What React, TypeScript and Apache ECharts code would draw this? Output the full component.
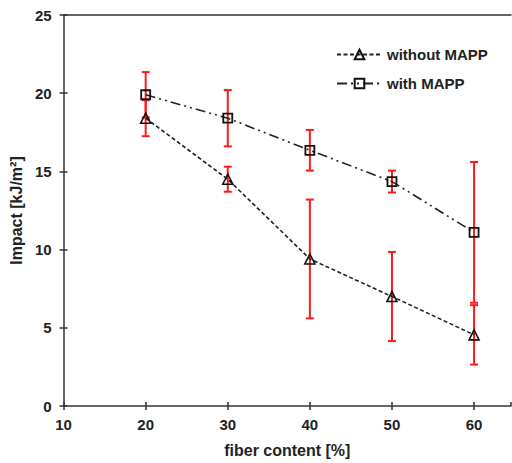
import React, { useEffect, useRef } from "react";
import * as echarts from "echarts";

const fiberContent = [20, 30, 40, 50, 60];
const withoutMAPP = [18.4, 14.5, 9.4, 7.0, 4.55];
const withoutMAPPErr = [1.15, 0.8, 3.8, 2.85, 1.9];
const withMAPP = [19.9, 18.4, 16.35, 14.35, 11.1];
const withMAPPErr = [1.45, 1.8, 1.3, 0.7, 4.5];

const FONT = "Liberation Sans, Arial, sans-serif";
const AX = "#333";

function errData(vals: number[], errs: number[]) {
  return fiberContent.map((x, i) => [x, vals[i] - errs[i], vals[i] + errs[i]]);
}

function renderErr(params: any, api: any) {
  const x = api.value(0);
  const lo = api.coord([x, api.value(1)]);
  const hi = api.coord([x, api.value(2)]);
  const w = 4;
  const style = { stroke: "#ff1a1a", lineWidth: 2 };
  return {
    type: "group",
    children: [
      { type: "line", shape: { x1: hi[0], y1: hi[1], x2: lo[0], y2: lo[1] }, style },
      { type: "line", shape: { x1: hi[0] - w, y1: hi[1], x2: hi[0] + w, y2: hi[1] }, style },
      { type: "line", shape: { x1: lo[0] - w, y1: lo[1], x2: lo[0] + w, y2: lo[1] }, style },
    ],
  };
}

export default function App() {
  const ref = useRef<HTMLDivElement>(null);
  useEffect(() => {
    const chart = echarts.init(ref.current!, undefined, { renderer: "svg" });
    const textStyle = { fontFamily: FONT, fontWeight: "bold" as const, fontSize: 15, color: "#222" };
    chart.setOption({
      animation: false,
      backgroundColor: "#fff",
      grid: { left: 63, top: 15, right: 1, bottom: 55 },
      legend: {
        data: ["without MAPP", "with MAPP"],
        orient: "vertical",
        left: 331,
        top: 42,
        itemWidth: 45,
        itemHeight: 12,
        itemGap: 14,
        textStyle: { ...textStyle, fontSize: 15 },
      },
      xAxis: [
        {
          type: "value",
          min: 10,
          max: 64.5,
          interval: 10,
          position: "bottom",
          name: "fiber content [%]",
          nameLocation: "middle",
          nameGap: 36,
          nameTextStyle: { ...textStyle, fontSize: 16 },
          axisLine: { show: true, lineStyle: { color: AX, width: 1.5 } },
          axisTick: { show: true, length: 4, lineStyle: { color: AX, width: 1.5 } },
          axisLabel: { ...textStyle, margin: 11, showMaxLabel: false },
          splitLine: { show: false },
        },
        {
          type: "value",
          min: 10,
          max: 64.5,
          interval: 10,
          position: "bottom",
          axisLine: { show: false },
          axisTick: { show: true, inside: true, length: 4, lineStyle: { color: AX, width: 1.5 } },
          axisLabel: { show: false },
          splitLine: { show: false },
        },
        {
          type: "value",
          min: 10,
          max: 64.5,
          position: "top",
          axisLine: { show: true, lineStyle: { color: AX, width: 1.5 } },
          axisTick: { show: false },
          axisLabel: { show: false },
          splitLine: { show: false },
        },
      ],
      yAxis: [
        {
          type: "value",
          min: 0,
          max: 25,
          interval: 5,
          position: "left",
          name: "Impact [kJ/m²]",
          nameLocation: "middle",
          nameGap: 35,
          nameTextStyle: { ...textStyle, fontSize: 16 },
          axisLine: { show: true, lineStyle: { color: AX, width: 1.5 } },
          axisTick: { show: true, length: 4, lineStyle: { color: AX, width: 1.5 } },
          axisLabel: { ...textStyle, margin: 12 },
          splitLine: { show: false },
        },
        {
          type: "value",
          min: 0,
          max: 25,
          interval: 5,
          position: "left",
          axisLine: { show: false },
          axisTick: { show: true, inside: true, length: 4, lineStyle: { color: AX, width: 1.5 } },
          axisLabel: { show: false },
          splitLine: { show: false },
        },
      ],
      series: [
        {
          type: "custom",
          name: "errWithout",
          renderItem: renderErr,
          data: errData(withoutMAPP, withoutMAPPErr),
          encode: { x: 0, y: [1, 2] },
          z: 1,
        },
        {
          type: "custom",
          name: "errWith",
          renderItem: renderErr,
          data: errData(withMAPP, withMAPPErr),
          encode: { x: 0, y: [1, 2] },
          z: 1,
        },
        {
          type: "line",
          name: "without MAPP",
          data: fiberContent.map((x, i) => [x, withoutMAPP[i]]),
          symbol: "triangle",
          symbolSize: 10,
          lineStyle: { color: "#222", width: 1.6, type: [4, 2.5] },
          itemStyle: { color: "rgba(0,0,0,0)", borderColor: "#111", borderWidth: 1.6 },
          z: 3,
        },
        {
          type: "line",
          name: "with MAPP",
          data: fiberContent.map((x, i) => [x, withMAPP[i]]),
          symbol: "rect",
          symbolSize: 9,
          lineStyle: { color: "#222", width: 1.6, type: [10, 4, 2, 4, 2, 4] },
          itemStyle: { color: "rgba(0,0,0,0)", borderColor: "#111", borderWidth: 1.8 },
          z: 3,
        },
      ],
    });
    return () => chart.dispose();
  }, []);
  return (
    <div
      ref={ref}
      style={{ position: "fixed", left: 0, top: 0, width: 512, height: 463, background: "#fff" }}
    />
  );
}
